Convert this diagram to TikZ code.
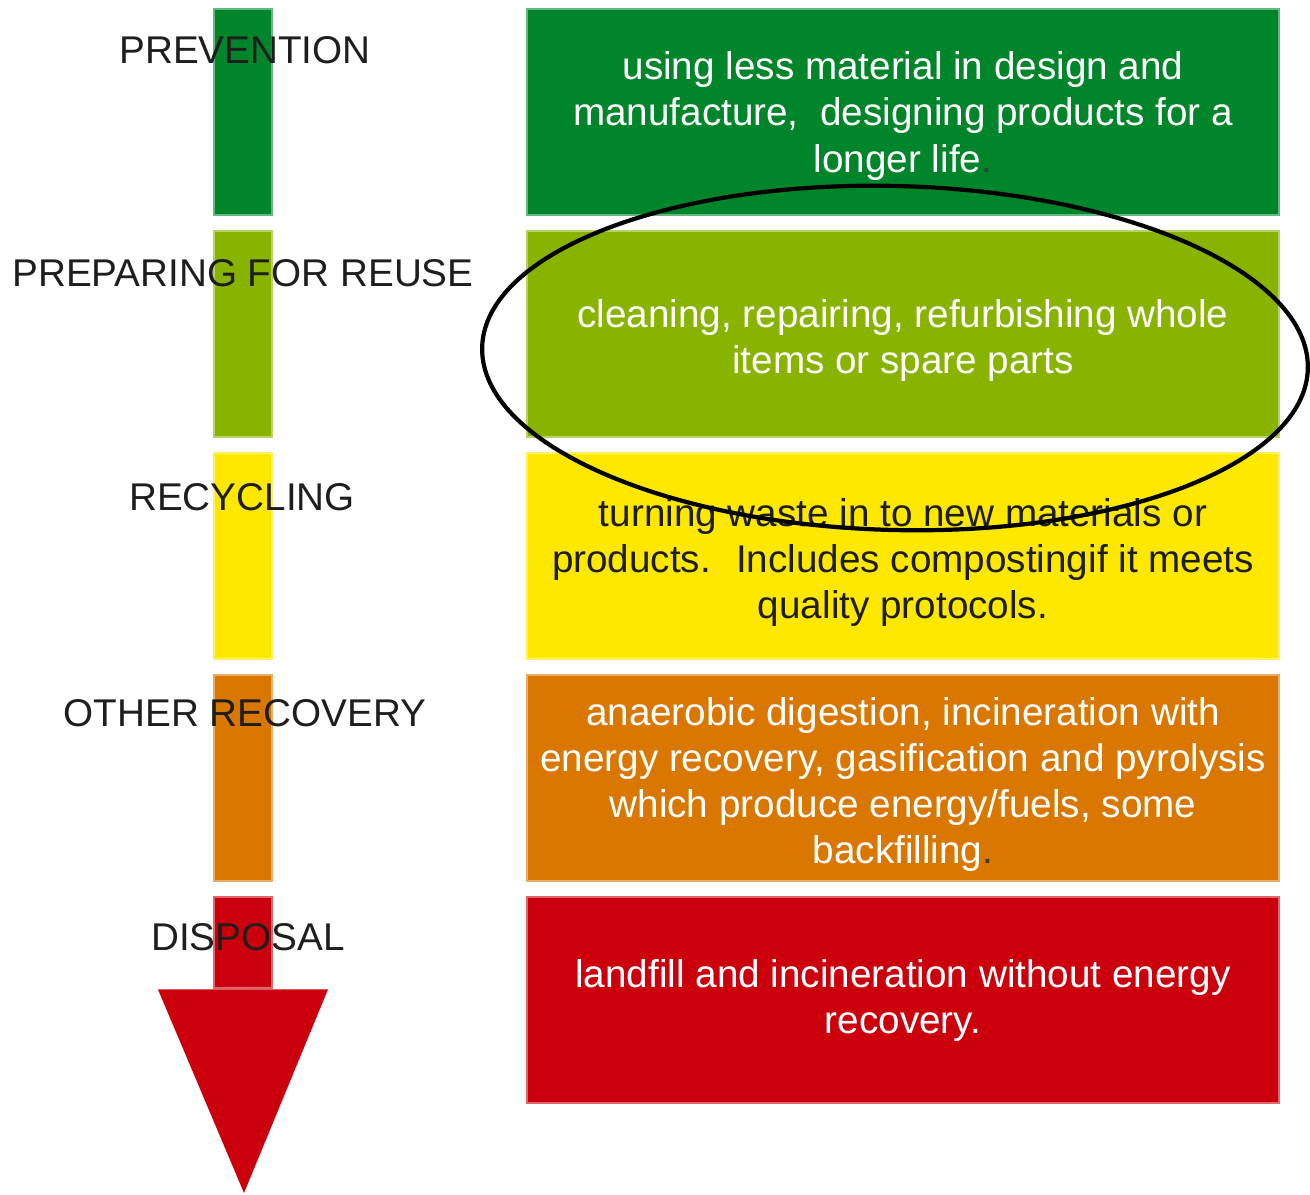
\documentclass[tikz,border=0pt]{standalone}
\usepackage{fontspec}
\setmainfont{Liberation Sans}
\usetikzlibrary{positioning}
\definecolor{prevgreen}{HTML}{00852A}
\definecolor{reusegreen}{HTML}{88B400}
\definecolor{recyyellow}{HTML}{FFE800}
\definecolor{recorange}{HTML}{D97700}
\definecolor{disred}{HTML}{CC000C}
\definecolor{lbltext}{HTML}{1E1E1E}
\definecolor{dottext}{HTML}{3A3A3A}
\begin{document}
\begin{tikzpicture}[
                        node distance=0.14cm,
                        box/.style={rectangle, draw=#1!60!white, fill=#1, line width=0.6pt,
                                    minimum width=7.52cm, minimum height=2.06cm, inner sep=0pt,
                                    align=center, text=white, font=\fontsize{11}{13.1}\selectfont},
                        bar/.style={rectangle, draw=#1!60!white, fill=#1, line width=0.6pt,
                                    minimum width=0.58cm, minimum height=2.06cm, inner sep=0pt},
                        tier/.style={text=lbltext, inner sep=0pt, font=\fontsize{11}{13.1}\selectfont}
                    ]
                    \useasboundingbox (0,0) rectangle (13.1,-11.95);
                    % Bars
                    \node [bar=prevgreen] (bar1) at (2.43,-1.12) {};
                    \node [bar=reusegreen,below=of bar1] (bar2) {};
                    \node [bar=recyyellow,below=of bar2] (bar3) {};
                    \node [bar=recorange,below=of bar3] (bar4) {};
                    \node [bar=disred,minimum height=0.91cm,below=of bar4] (bar5) {};
                    \coordinate (tip) at (2.44,-11.93);
                    \fill [disred] ([xshift=-0.85cm]bar5.south) -- ([xshift=0.85cm]bar5.south) -- (tip) -- cycle;

                    % Tier labels
                    \node [tier] (lprev) at ([xshift=0.02cm,yshift=-0.42cm]bar1.north) {PREVENTION};
                    \node [tier] (lreuse) at ([xshift=0.00cm,yshift=-0.43cm]bar2.north) {PREPARING FOR REUSE};
                    \node [tier] (lrecy) at ([xshift=-0.01cm,yshift=-0.45cm]bar3.north) {RECYCLING};
                    \node [tier] (lrecov) at ([xshift=0.02cm,yshift=-0.39cm]bar4.north) {OTHER RECOVERY};
                    \node [tier] (ldisp) at ([xshift=0.05cm,yshift=-0.41cm]bar5.north) {DISPOSAL};

                    % Boxes
                    \node [box=prevgreen] (box1) at (9.03,-1.12) {\rule{0pt}{0.36cm}using less material in design and\\manufacture,~ designing products for a\\longer life\textcolor{dottext}{.}};
                    \node [box=reusegreen,below=of box1] (box2) {\rule{0pt}{0.4cm}cleaning, repairing, refurbishing whole\\items or spare parts};
                    \node [box=recyyellow,below=of box2,text=lbltext] (box3) {\rule{0pt}{0.4cm}turning waste in to new materials or\\products.~ Includes compostingif it meets\\quality protocols.};
                    \node [box=recorange,below=of box3] (box4) {\rule{0pt}{0.4cm}anaerobic digestion, incineration with\\energy recovery, gasification and pyrolysis\\which produce energy/fuels, some\\backfilling\textcolor{dottext}{.}};
                    \node [box=disred,below=of box4] (box5) {landfill and incineration without energy\\recovery.};

                    % Highlight
                    \coordinate (oval) at (8.95,-3.58);
                    \draw [line width=1.2pt] (oval) circle [x radius=4.13cm, y radius=1.72cm, rotate=-1.5];
                \end{tikzpicture}
\end{document}
